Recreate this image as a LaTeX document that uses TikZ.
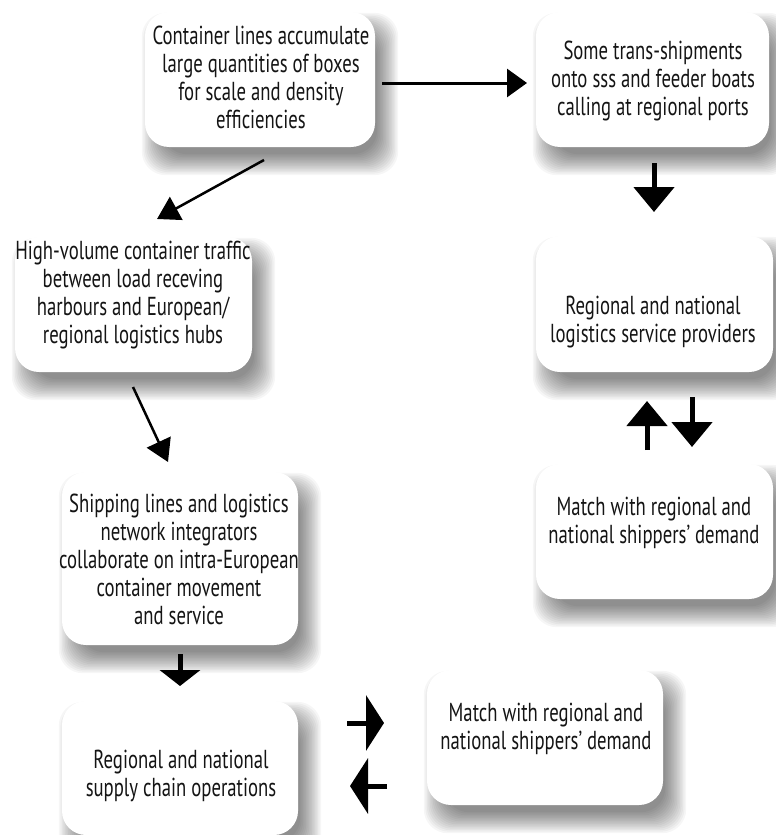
\documentclass[tikz,border=0pt]{standalone}
\usepackage{fontspec}
\setmainfont[FakeStretch=0.72]{PT Sans}
\usetikzlibrary{arrows.meta,calc}
\pgfdeclarelayer{bglayer}
\pgfdeclarelayer{shadowlayer}
\pgfsetlayers{bglayer,shadowlayer,main}
\newcommand\myshadow[1]{%
  \foreach \s in {-8,-6.5,...,14} {%
    \fill[black, opacity=0.035, rounded corners=24pt]
      ($(#1.north west)+(10-\s,14-\s)$) rectangle ($(#1.south east)+(10+\s,15+\s)$);
  }}
\begin{document}
\begin{tikzpicture}[x=1pt,y=-1pt,
  box/.style={rectangle, rounded corners=24pt, fill=white, draw=none, inner sep=0pt},
  txt/.style={align=center, text=black!92, inner sep=0pt, font=\fontsize{26}{28}\selectfont},
  thinarrow/.style={line width=2.5pt, -{Triangle[length=22pt,width=26pt]}},
  midarrow/.style={line width=3pt, -{Triangle[length=20pt,width=28pt]}},
  blockv/.style={line width=5pt, -{Triangle[length=25pt,width=40pt]}},
  blockh/.style={line width=5pt, -{Triangle[length=18pt,width=55pt]}},
]
\useasboundingbox (0,0) rectangle (776,835);
\begin{pgfonlayer}{bglayer}
\fill[white] (0,0) rectangle (776,835);
\end{pgfonlayer}

% boxes
\node[box, minimum width=230pt, minimum height=135pt] (b1) at (260,79.5) {};
\node[box, minimum width=233pt, minimum height=135pt] (b2) at (652.5,79.5) {};
\node[box, minimum width=237pt, minimum height=135pt] (b3) at (133.5,304.5) {};
\node[box, minimum width=237pt, minimum height=136pt] (b4) at (654.5,304) {};
\node[box, minimum width=237pt, minimum height=135pt] (b5) at (654.5,531.5) {};
\node[box, minimum width=236pt, minimum height=173pt] (b6) at (180,558.5) {};
\node[box, minimum width=236pt, minimum height=134pt] (b7) at (180,768) {};
\node[box, minimum width=236pt, minimum height=135pt] (b8) at (545,737.5) {};

\begin{pgfonlayer}{shadowlayer}
\foreach \b in {b1,b2,b3,b4,b5,b6,b7,b8} {\myshadow{\b}}
\end{pgfonlayer}

% texts
\node[txt] (t1) at (261,77) {Container lines accumulate\\large quantities of boxes\\for scale and density\\efficiencies};
\node[txt] (t2) at (653,81) {Some trans-shipments\\onto sss and feeder boats\\calling at regional ports};
\node[txt] (t3) at (133,295) {High-volume container traffic\\between load receving\\harbours and European/\\regional logistics hubs};
\node[txt] (t4) at (653,322) {Regional and national\\logistics service providers};
\node[txt] (t5) at (654,523) {Match with regional and\\national shippers' demand};
\node[txt] (t6) at (179,559) {Shipping lines and logistics\\network integrators\\collaborate on intra-European\\container movement\\and service};
\node[txt] (t7) at (181,776) {Regional and national\\supply chain operations};
\node[txt] (t8) at (546,729) {Match with regional and\\national shippers' demand};

% arrow end points
\coordinate (a1s) at (382,83);  \coordinate (a1e) at (527,83);
\coordinate (a2s) at (264,160); \coordinate (a2e) at (157,219);
\coordinate (a3s) at (133,387); \coordinate (a3e) at (168,462);
\coordinate (a4s) at (654,163); \coordinate (a4e) at (654,212);
\coordinate (a5s) at (647,450); \coordinate (a5e) at (647,401);
\coordinate (a6s) at (692,397); \coordinate (a6e) at (692,447);
\coordinate (a7s) at (180,654); \coordinate (a7e) at (180,686);
\coordinate (a8s) at (347,723); \coordinate (a8e) at (384,723);
\coordinate (a9s) at (387,786); \coordinate (a9e) at (350,786);

\draw[midarrow] (a1s) -- (a1e);
\draw[thinarrow] (a2s) -- (a2e);
\draw[thinarrow] (a3s) -- (a3e);
\draw[blockv] (a4s) -- (a4e);
\draw[blockv] (a5s) -- (a5e);
\draw[blockv] (a6s) -- (a6e);
\draw[line width=5pt, -{Triangle[length=16pt,width=40pt]}] (a7s) -- (a7e);
\draw[blockh] (a8s) -- (a8e);
\draw[blockh] (a9s) -- (a9e);
\end{tikzpicture}
\end{document}
